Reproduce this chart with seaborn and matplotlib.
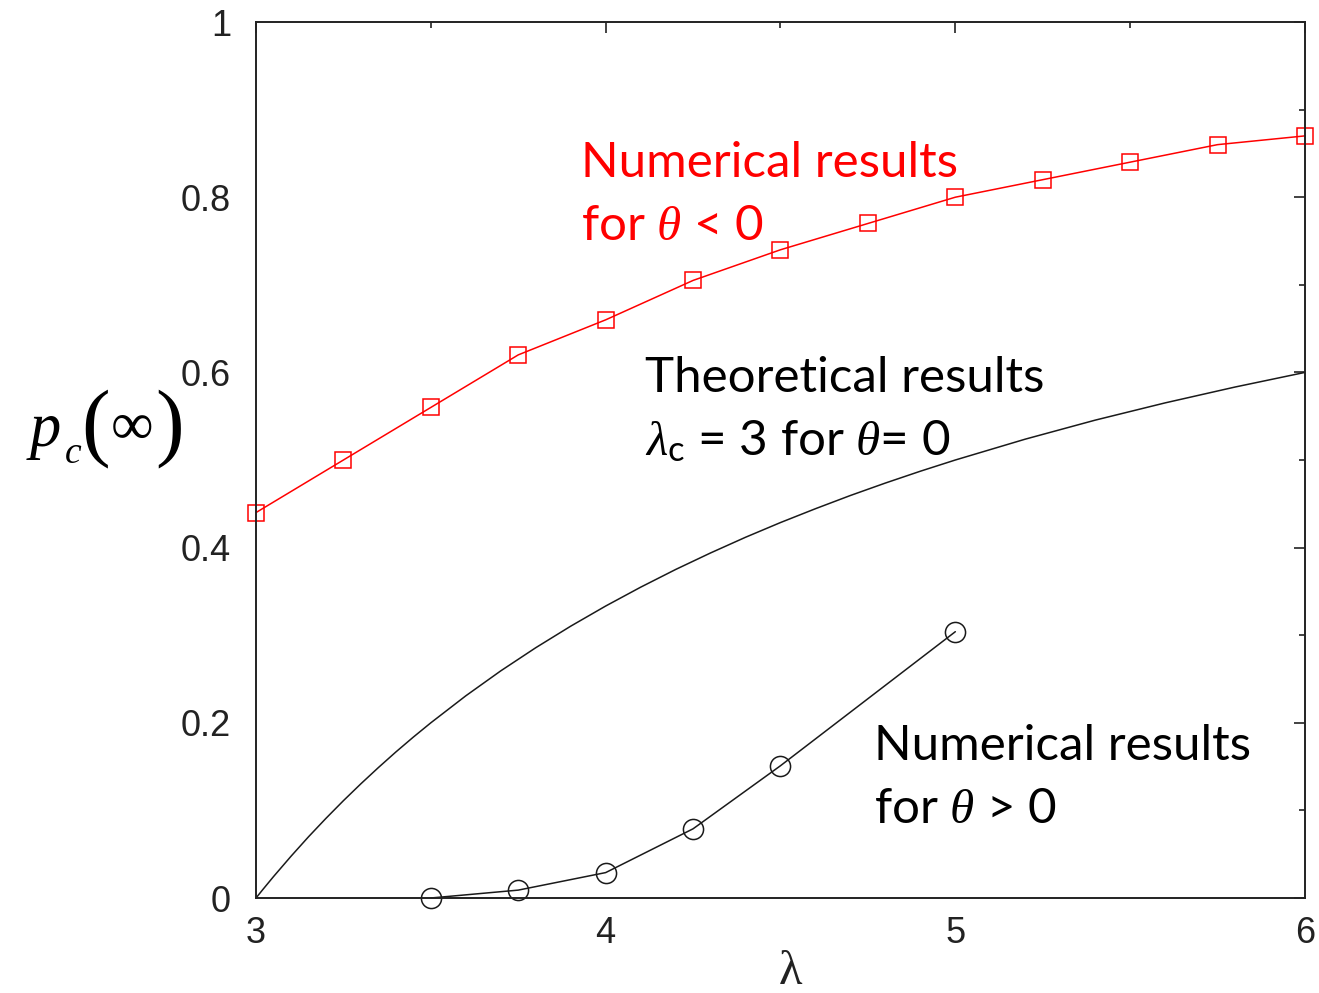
import matplotlib
matplotlib.use("Agg")
import matplotlib.pyplot as plt
import seaborn as sns
import numpy as np
from matplotlib.ticker import FixedLocator, FixedFormatter

# ---------------- data ----------------
lam_neg = [3.0, 3.25, 3.5, 3.75, 4.0, 4.25, 4.5, 4.75, 5.0, 5.25, 5.5, 5.75, 6.0]
pc_neg = [0.44, 0.50, 0.56, 0.62, 0.66, 0.705, 0.74, 0.77, 0.80, 0.82, 0.84, 0.86, 0.87]

lam_pos = [3.5, 3.75, 4.0, 4.25, 4.5, 5.0]
pc_pos = [0.0, 0.009, 0.029, 0.079, 0.151, 0.304]

lam_theory = [3.0, 3.02, 3.05, 3.1, 3.15, 3.2, 3.25, 3.3, 3.35, 3.4, 3.45, 3.5,
              3.6, 3.7, 3.8, 3.9, 4.0, 4.1, 4.2, 4.3, 4.4, 4.5, 4.6, 4.7, 4.8,
              4.9, 5.0, 5.2, 5.4, 5.6, 5.8, 6.0]
pc_theory = [0.0, 0.0099, 0.0244, 0.0476, 0.0698, 0.0909, 0.1111, 0.1304, 0.1489,
             0.1667, 0.1837, 0.2000, 0.2308, 0.2593, 0.2857, 0.3103, 0.3333,
             0.3548, 0.3750, 0.3939, 0.4118, 0.4286, 0.4444, 0.4595, 0.4737,
             0.4872, 0.5000, 0.5238, 0.5455, 0.5652, 0.5833, 0.6000]

x_major = [3, 4, 5, 6]
x_minor = [3.5, 4.5, 5.5]
x_labels = ["3", "4", "5", "6"]
y_major = [0, 0.2, 0.4, 0.6, 0.8, 1.0]
y_minor = [0.1, 0.3, 0.5, 0.7, 0.9]
y_labels = ["0", "0.2", "0.4", "0.6", "0.8", "1"]

# ---------------- style ----------------
sns.set_theme(style="white")
plt.rcParams["font.family"] = ["Liberation Sans", "DejaVu Sans"]
plt.rcParams["mathtext.fontset"] = "custom"
plt.rcParams["mathtext.rm"] = "Lato"
plt.rcParams["mathtext.sf"] = "Lato"
plt.rcParams["mathtext.it"] = "Liberation Serif:italic"
plt.rcParams["mathtext.bf"] = "Lato:bold"

W, H = 1319, 993
fig = plt.figure(figsize=(W / 100, H / 100), dpi=100)
ax = fig.add_axes([256 / W, 1 - 898 / H, (1305 - 256) / W, (898 - 22) / H])

dark = "#1a1a1a"
lw = 1.1

sns.lineplot(x=lam_theory, y=pc_theory, ax=ax, color=dark, linewidth=lw,
             estimator=None, sort=False)
sns.lineplot(x=lam_pos, y=pc_pos, ax=ax, color=dark, linewidth=lw,
             marker="o", markersize=14.5, markerfacecolor="none",
             markeredgecolor=dark, markeredgewidth=1.1,
             estimator=None, sort=False, clip_on=False)
sns.lineplot(x=lam_neg, y=pc_neg, ax=ax, color="red", linewidth=lw,
             marker="s", markersize=12, markerfacecolor="none",
             markeredgecolor="red", markeredgewidth=1.1,
             estimator=None, sort=False, clip_on=False)

ax.set_xlim(3, 6)
ax.set_ylim(0, 1)
ax.xaxis.set_major_locator(FixedLocator(x_major))
ax.xaxis.set_major_formatter(FixedFormatter(x_labels))
ax.xaxis.set_minor_locator(FixedLocator(x_minor))
ax.yaxis.set_major_locator(FixedLocator(y_major))
ax.yaxis.set_major_formatter(FixedFormatter(y_labels))
ax.yaxis.set_minor_locator(FixedLocator(y_minor))

for s in ax.spines.values():
    s.set_visible(True)
    s.set_color("#222222")
    s.set_linewidth(1.4)

ax.tick_params(which="both", direction="in", top=True, right=True,
               color="#222222", width=1.2)
ax.tick_params(which="major", length=8)
ax.tick_params(which="minor", length=4.5)
ax.tick_params(axis="x", which="major", pad=13, labelsize=26, labelcolor="#222222")
ax.tick_params(axis="y", which="major", pad=18, labelsize=26, labelcolor="#222222")

# x label
ax.set_xlabel("λ", fontfamily=["Liberation Serif", "DejaVu Serif"], fontsize=35,
              color="#222222")
ax.xaxis.set_label_coords((790 - 256) / 1049, (898 - 950) / 876)
ax.set_ylabel("")


def P(x, y):
    return x / W, 1 - y / H


serif = ["Liberation Serif", "DejaVu Serif"]
# y label p_c(∞)
fig.text(*P(30, 446), "p", fontfamily=serif, fontstyle="italic", fontsize=45,
         ha="left", va="baseline", color="black")
fig.text(*P(65, 463), "c", fontfamily=serif, fontstyle="italic", fontsize=27,
         ha="left", va="baseline", color="black")
fig.text(*P(110, 449), "(", fontfamily=serif, fontsize=62,
         ha="right", va="baseline", color="black")
fig.text(*P(111, 444), "∞", fontfamily=serif, fontsize=43,
         ha="left", va="baseline", color="black")
fig.text(*P(155, 449), ")", fontfamily=serif, fontsize=62,
         ha="left", va="baseline", color="black")

# annotations
ann = dict(fontfamily=["Lato", "DejaVu Sans"], fontsize=35.5, ha="left", va="baseline")
fig.text(*P(581, 177), "Numerical results", color="red", **ann)
fig.text(*P(581, 240), r"for $\theta$ < 0", color="red", **ann)
fig.text(*P(645, 392), "Theoretical results", color="black", **ann)
fig.text(*P(645, 455), r"$\lambda_{\mathrm{c}}$ = 3 for $\theta$= 0", color="black", **ann)
fig.text(*P(874, 760), "Numerical results", color="black", **ann)
fig.text(*P(874, 823), r"for $\theta$ > 0", color="black", **ann)

fig.savefig("out.png", dpi=100)
